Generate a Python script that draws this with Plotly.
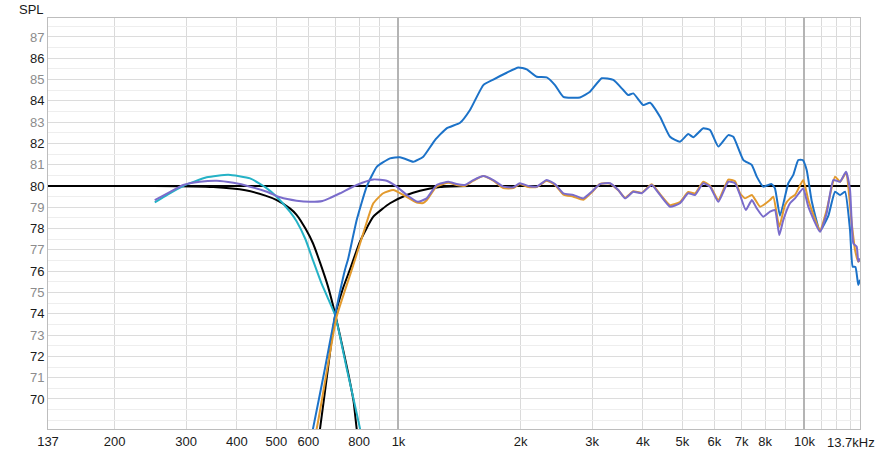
import math
import plotly.graph_objects as go

# ---------------- data ----------------
target_f = [137, 13700]
target_db = [80, 80]

lp_target_f = [137, 250, 350, 420, 470, 500, 540, 561, 590, 616, 641, 670, 698, 725, 752, 775, 789, 805]
lp_target_db = [80.0, 80.0, 79.95, 79.8, 79.55, 79.35, 78.95, 78.65, 78.0, 77.3, 76.4, 75.3, 74.0, 72.6, 71.2, 69.9, 68.6, 67.6]

hp_target_f = [630, 641, 670, 698, 730, 760, 804, 867, 953, 1048, 1130, 1265, 1500, 2000]
hp_target_db = [67.8, 68.62, 71.4, 73.9, 75.2, 76.1, 77.4, 78.56, 79.19, 79.58, 79.78, 79.95, 80.0, 80.0]

woofer_f = [251, 270, 295, 337, 381, 431, 474, 501, 540, 561, 590, 616, 647, 675, 698, 722, 746, 775, 804, 815]
woofer_db = [79.23, 79.6, 80.0, 80.41, 80.53, 80.36, 79.89, 79.5, 78.8, 78.35, 77.5, 76.5, 75.4, 74.6, 73.94, 72.7, 71.4, 70.0, 68.6, 68.0]

tweeter_f = [600, 616, 657, 698, 738, 752, 789, 835, 884, 953, 1008, 1067, 1088, 1151, 1230, 1314, 1418,
             1500, 1618, 1712, 1847, 1973, 2069, 2190, 2317, 2429, 2547, 2799, 2963, 3166, 3381, 3578,
             3680, 3787, 4009, 4165, 4407, 4664, 4936, 5172, 5322, 5632, 5852, 6134, 6493, 6679, 7070,
             7413, 7628, 7912, 8302, 8458, 8703, 9122, 9384, 9654, 9900, 10125, 10416, 10920, 11447,
             11890, 12232, 12583, 12947, 13146, 13350, 13568, 13700]
tweeter_db = [67.6, 68.62, 71.3, 73.94, 76.06, 76.6, 78.4, 79.97, 80.9, 81.3, 81.35, 81.19, 81.14, 81.38, 82.16, 82.71, 82.97,
              83.57, 84.74, 85.0, 85.32, 85.57, 85.48, 85.13, 85.1, 84.74, 84.19, 84.16, 84.43, 85.06, 84.98, 84.51,
              84.27, 84.35, 83.8, 83.91, 83.25, 82.31, 82.08, 82.44, 82.29, 82.71, 82.63, 81.85, 82.39, 82.31, 81.22,
              80.99, 80.44, 79.97, 80.09, 79.89, 78.6, 80.13, 80.52, 81.22, 81.22, 80.75, 79.3, 77.9, 78.6,
              79.73, 79.58, 79.73, 77.93, 76.21, 76.2, 75.35, 75.6]

filtered_f = [610, 629, 666, 704, 767, 781, 819, 867, 917, 971, 1027, 1109, 1150, 1173, 1242, 1327, 1391, 1458,
              1529, 1618, 1712, 1812, 1918, 1990, 2088, 2190, 2317, 2430, 2547, 2695, 2852, 2991, 3135, 3318,
              3478, 3614, 3787, 3972, 4203, 4407, 4664, 4936, 5172, 5373, 5632, 5852, 6134, 6493, 6744, 6937,
              7137, 7420, 7771, 8222, 8380, 8667, 8954, 9211, 9476, 9931, 10218, 10920, 11340, 11890, 12232,
              12654, 13072, 13317, 13568, 13700]
filtered_db = [67.8, 68.62, 71.3, 73.86, 76.06, 76.53, 77.78, 79.19, 79.66, 79.81, 79.58, 79.22, 79.2, 79.33, 79.98, 80.15, 80.05, 80.0,
               80.25, 80.47, 80.25, 79.9, 79.9, 80.1, 79.95, 79.95, 80.25, 80.05, 79.6, 79.5, 79.35, 79.7, 80.1, 80.12,
               79.8, 79.45, 79.75, 79.68, 80.08, 79.62, 79.1, 79.25, 79.72, 79.65, 80.2, 80.02, 79.35, 80.3, 80.22, 79.66,
               79.42, 79.58, 79.03, 79.34, 79.5, 78.09, 79.11, 79.42, 79.58, 80.28, 79.34, 77.93, 78.87, 80.44, 80.2,
               80.6, 78.25, 77.0, 76.45, 76.53]

sum_f = [251, 274, 295, 324, 357, 392, 431, 474, 511, 561, 605, 650, 680, 718, 789, 867, 935, 990, 1048, 1116,
         1173, 1242, 1327, 1391, 1458, 1529, 1618, 1712, 1812, 1918, 1990, 2088, 2190, 2317, 2430, 2547, 2695,
         2852, 2991, 3135, 3318, 3478, 3614, 3787, 3972, 4203, 4407, 4664, 4936, 5172, 5373, 5632, 5852, 6134,
         6493, 6744, 6937, 7170, 7420, 7628, 7912, 8222, 8458, 8667, 8867, 9211, 9476, 9748, 9931, 10218, 10920,
         11340, 11775, 12232, 12654, 12947, 13190, 13446, 13568, 13700]
sum_db = [79.34, 79.73, 80.05, 80.2, 80.25, 80.15, 79.97, 79.73, 79.47, 79.31, 79.26, 79.3, 79.45, 79.66, 80.05, 80.31, 80.25, 79.97, 79.58, 79.26,
          79.42, 80.05, 80.2, 80.09, 80.05, 80.28, 80.47, 80.28, 79.97, 79.94, 80.13, 80.0, 79.97, 80.28, 80.09, 79.66, 79.58,
          79.42, 79.73, 80.09, 80.13, 79.81, 79.42, 79.73, 79.66, 80.05, 79.58, 79.03, 79.19, 79.66, 79.58, 80.13, 79.97, 79.26,
          80.2, 80.13, 79.58, 78.87, 79.34, 78.95, 78.56, 78.8, 78.87, 77.7, 78.4, 79.19, 79.42, 79.73, 79.89, 79.03, 77.85,
          78.72, 80.28, 80.2, 80.67, 79.81, 77.31, 77.15, 76.45, 76.6]

x_tick_vals = [137, 200, 300, 400, 500, 600, 800, 1000, 2000, 3000, 4000, 5000, 6000, 7000, 8000, 10000]
x_tick_text = ["137", "200", "300", "400", "500", "600", "800", "1k", "2k", "3k", "4k", "5k", "6k", "7k", "8k", "10k"]
x_grid_vals = [200, 300, 400, 500, 600, 700, 800, 900, 2000, 3000, 4000, 5000, 6000, 7000, 8000, 9000, 11000, 12000, 13000]
x_dark_grid = [1000, 10000]
y_tick_vals = list(range(70, 88))
y_minor_vals = [68.5 + 0.5 * i for i in range(39)]

# ---------------- figure ----------------
fig = go.Figure()
lw = 2
sm = 0.45

def add(xs, ys, color, width=lw):
    fig.add_trace(go.Scatter(x=xs, y=ys, mode="lines", line=dict(color=color, width=width, shape="spline", smoothing=sm),
                             hoverinfo="skip", showlegend=False, cliponaxis=True))

add(target_f, target_db, "#000000")
add(lp_target_f, lp_target_db, "#000000")
add(hp_target_f, hp_target_db, "#000000")
add(woofer_f, woofer_db, "#25b2c6")
add(tweeter_f, tweeter_db, "#1c72c8")
add(filtered_f, filtered_db, "#e39a2d")
add(sum_f, sum_db, "#7a6ccb")

# helper trace for the dark-grid overlay axis
fig.add_trace(go.Scatter(x=[1000], y=[80], xaxis="x2", mode="markers", marker=dict(opacity=0, size=1),
                         hoverinfo="skip", showlegend=False))

y_text = []
for v in y_tick_vals:
    c = "#1a1a1a" if v % 2 == 0 else "#8c8c8c"
    y_text.append('<span style="color:%s">%d</span>' % (c, v))

xr = [math.log10(137), math.log10(13700)]
font = dict(family="Liberation Sans, Arial, sans-serif", size=13, color="#1a1a1a")

fig.update_layout(
    width=884, height=455,
    margin=dict(l=48, r=24, t=18, b=26, autoexpand=False),
    paper_bgcolor="white", plot_bgcolor="white",
    font=font,
    xaxis=dict(type="log", range=xr, tickmode="array", tickvals=x_tick_vals, ticktext=x_tick_text,
               tickangle=0, automargin=False,
               showgrid=False, zeroline=False, showline=True, linecolor="#bdbdbd", linewidth=1, mirror=True,
               ticks="", tickfont=font,
               minor=dict(tickmode="array", tickvals=x_grid_vals, showgrid=True, gridcolor="#dadada", gridwidth=1, ticks="")),
    xaxis2=dict(type="log", range=xr, overlaying="x", tickmode="array", tickvals=x_dark_grid,
                showgrid=True, gridcolor="#b4b4b4", gridwidth=1.5, showticklabels=False, showline=False,
                zeroline=False, ticks="", side="bottom", automargin=False),
    yaxis=dict(range=[68.59, 87.89], tickmode="array", tickvals=y_tick_vals, ticktext=y_text, automargin=False,
               showgrid=True, gridcolor="#dcdcdc", gridwidth=1, zeroline=False,
               showline=True, linecolor="#bdbdbd", linewidth=1, mirror=True, ticks="", tickfont=font,
               minor=dict(tickmode="array", tickvals=y_minor_vals, showgrid=True, gridcolor="#eeeeee", gridwidth=1, ticks="")),
    annotations=[
        dict(text="SPL", xref="paper", yref="paper", x=0, y=1, xanchor="right", yanchor="middle",
             xshift=-2, yshift=9, showarrow=False, font=font),
        dict(text="13.7kHz", xref="paper", yref="paper", x=1, y=0, xanchor="right", yanchor="middle",
             xshift=17, yshift=-13, showarrow=False, font=font),
    ],
)

fig.write_html("out.html")
